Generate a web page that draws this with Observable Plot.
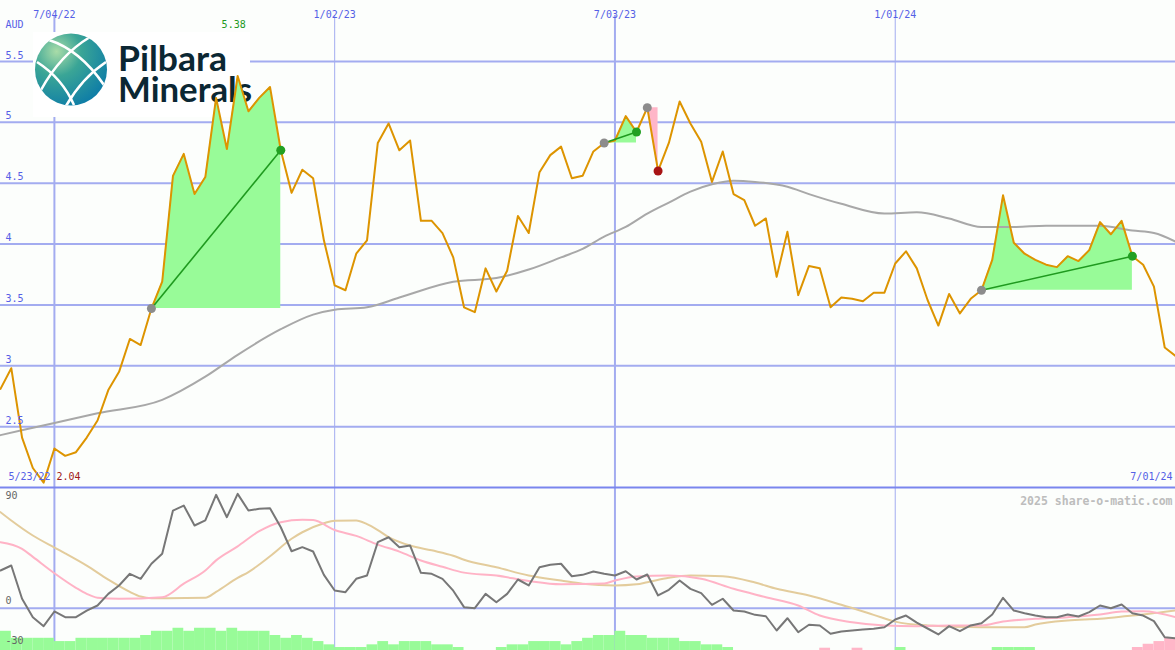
<!DOCTYPE html>
<html><head><meta charset="utf-8">
<script src="https://cdn.jsdelivr.net/npm/d3@7"></script>
<script src="https://cdn.jsdelivr.net/npm/@observablehq/plot@0.6"></script>
<style>
html,body{margin:0;padding:0;background:#fcfefc;}
#chart{width:1175px;height:650px;overflow:hidden;background:#fcfefc;}
#chart svg{display:block;}
</style></head><body><div id="chart"></div>
<script>
// ---------- data ----------
const startWeek = "2022-05-30";           // first weekly point
const firstDateLabel = "5/23/22";
const lastDateLabel = "7/01/24";
const unitLabel = "AUD";
const watermark = "2025 share-o-matic.com";
const logoLines = ["Pilbara", "Minerals"];

const price = [
  2.81, 2.98, 2.41, 2.16, 2.04, 2.32, 2.26, 2.29, 2.41, 2.55,
  2.80, 2.95, 3.22, 3.17, 3.47, 3.69, 4.56, 4.74, 4.41, 4.55,
  5.20, 4.78, 5.38, 5.09, 5.20, 5.29, 4.77, 4.42, 4.61, 4.54,
  4.03, 3.66, 3.62, 3.92, 4.03, 4.83, 4.99, 4.77, 4.85, 4.19,
  4.19, 4.09, 3.89, 3.48, 3.44, 3.80, 3.61, 3.78, 4.23, 4.09,
  4.59, 4.73, 4.80, 4.54, 4.56, 4.76, 4.83, 4.85, 5.05, 4.92,
  5.12, 4.60, 4.83, 5.17, 4.99, 4.84, 4.51, 4.76, 4.41, 4.36,
  4.15, 4.21, 3.73, 4.10, 3.58, 3.82, 3.80, 3.48, 3.56, 3.55,
  3.53, 3.60, 3.60, 3.84, 3.94, 3.80, 3.54, 3.33, 3.59, 3.43,
  3.55, 3.62, 3.87, 4.40, 4.01, 3.92, 3.87, 3.83, 3.81, 3.90,
  3.86, 3.95, 4.18, 4.08, 4.19, 3.90, 3.83, 3.65, 3.15, 3.08
];

const maWeeks  = [0,5,9,15,19,22,26,29,31,34,37,42,46,49,52,54,56,58,60,62,64,66,68,70,73,75,78,82,85,88,91,94,97,102,105,107,109];
const maValues = [2.43,2.53,2.61,2.72,2.91,3.09,3.30,3.42,3.46,3.48,3.56,3.69,3.72,3.79,3.89,3.96,4.06,4.14,4.25,4.34,4.43,4.49,4.52,4.51,4.47,4.41,4.33,4.25,4.26,4.21,4.14,4.14,4.15,4.15,4.11,4.09,4.02];

// trend annotations: [from week, to week]
const trendFrom = [14, 56, 60, 91];
const trendTo   = [26, 59, 61, 105];
const trendDir  = ["up", "up", "down", "up"];

const osc = [
  32.3, 36.6, 8.1, -7.7, -15.4, -2.8, -7.7, -7.7, -2.0, 2.3,
  12.3, 19.5, 29.5, 25.2, 38.1, 46.6, 83.7, 88.0, 70.9, 75.2,
  97.2, 78.0, 98.0, 83.7, 85.2, 85.7, 69.4, 48.8, 52.3, 48.6,
  28.6, 15.2, 13.7, 25.2, 28.0, 56.6, 60.8, 52.3, 53.7, 30.3,
  29.5, 25.2, 15.0, 0.9, 0.0, 12.3, 5.1, 12.3, 24.6, 19.5,
  35.1, 37.2, 38.1, 27.4, 28.6, 31.5, 29.5, 28.0, 31.7, 24.6,
  28.9, 10.9, 15.8, 23.7, 16.6, 12.9, 2.9, 8.1, -2.0, -2.8,
  -5.7, -6.9, -19.1, -8.6, -20.6, -14.2, -14.8, -21.9, -20.0, -19.1,
  -18.3, -17.7, -16.3, -9.7, -6.3, -12.3, -17.4, -22.5, -15.4, -19.7,
  -14.8, -12.9, -5.4, 8.9, -2.0, -4.3, -6.3, -7.7, -7.7, -5.4,
  -7.1, -3.4, 2.3, 0.0, 3.2, -4.3, -6.3, -11.1, -24.9, -25.7
];

const pinkWeeks  = [0,2,3,5,7,8,9,11,15,17,19,20,22,24,26,28,29,31,33,35,37,39,41,43,46,49,52,56,57,59,62,65,68,71,74,76,79,82,85,88,91,93,96,99,102,104,106,109];
const pinkValues = [56.6,50.9,44,30,17.5,12.3,9,8.1,9.4,21,32.3,41,53,66,73.7,75.8,75.5,67,62,54.5,48.5,40.9,35.5,30.5,28,23.3,20.5,21.2,23.7,27.2,28,25.2,16.6,9.4,2.3,-6.3,-12,-14.8,-15.4,-14.8,-14.8,-11.4,-9.1,-7.7,-5.4,-2.8,-2.6,-7.7];

const tanWeeks  = [0,1,3,5,6,8,10,12,13,14,19,20,22,23,25,27,28,30,31,33,34,35,36,38,40,42,43,46,49,52,54,57,59,60,62,64,67,70,72,75,78,81,83,86,91,95,96,99,102,105,106,109];
const tanValues = [82.3,75.2,62.3,52,47,36.5,24.5,14,10,8.6,8.9,14,26,31,44.5,59.5,65.1,72.8,75,75.2,72,67,61,53.7,49.6,45,41.5,35.1,28,23.7,21,19.5,20.5,22.3,26.1,28,27.4,22,16.6,10.9,2.9,-5.7,-11.5,-14.8,-16.3,-16.3,-14,-10.5,-9.1,-6.3,-5.4,-2];

// histogram between week i and week i+1 (positive green, negative pink)
const histValues = [
  16.5,
  10.5,10.5,10.5,10.5,
  7.7,7.7,
  10.5,10.5,10.5,10.5,10.5,10.5,
  12.9,
  16.5,16.5,
  19.1,
  16.5,
  19.1,19.1,
  16.5,
  19.1,
  16.5,16.5,16.5,
  12.9,
  10.5,
  12.9,
  10.5,
  7.7,
  4.9,
  2.6,2.6,2.6,
  4.9,
  7.7,
  4.9,
  7.7,7.7,7.7,
  4.9,4.9,
  2.6,
  0,0,0,
  2.6,
  4.9,4.9,
  7.7,7.7,7.7,
  4.9,
  7.7,
  10.5,
  12.9,12.9,
  16.5,
  12.9,12.9,
  10.5,10.5,10.5,
  7.7,7.7,
  4.9,4.9,
  2.6,
  0,0,0,0,0,0,0,0,
  -2,
  0,0,
  -2,
  0,0,0,
  2.6,
  0,0,0,0,0,0,0,0,
  2.6,2.6,2.6,2.6,
  0,0,0,0,0,0,0,0,0,
  -2.6,-5.4,-7.7,-10.5
];

const priceTicks = [5.5, 5, 4.5, 4, 3.5, 3, 2.5];
const dateTicks = ["2022-07-04", "2023-01-02", "2023-07-03", "2024-01-01"];
const dateTickLabels = ["7/04/22", "1/02/23", "7/03/23", "1/01/24"];
const oscTicks = [90, 0, -30];

// ---------- styles ----------
const GRID = "#a3acf0";
const SEP = "#7a86ee";
const LABEL = "#5560e6";
const ORANGE = "#dd9400";
const GREEN_FILL = "#98fb98";
const PINK_FILL = "#ffb6c8";
const FONT = "DejaVu Sans Mono, monospace";

// ---------- derived tables ----------
const t0 = new Date(startWeek);
const dates = price.map((_, i) => d3.utcDay.offset(t0, 7 * i));
const priceData = price.map((v, i) => ({date: dates[i], v}));
const maData = maWeeks.map((w, k) => ({date: dates[w], v: maValues[k]}));
const tickData = dateTicks.map((d, k) => ({date: new Date(d), label: dateTickLabels[k]}));
const julyTicks = tickData.filter(d => d.date.getUTCMonth() === 6);
const janTicks = tickData.filter(d => d.date.getUTCMonth() !== 6);
const oscData = osc.map((v, i) => ({date: dates[i], v}));
const pinkData = pinkWeeks.map((w, k) => ({date: dates[w], v: pinkValues[k]}));
const tanData = tanWeeks.map((w, k) => ({date: dates[w], v: tanValues[k]}));
const histData = histValues.map((v, i) => ({d1: dates[i], d2: dates[i + 1], v})).filter(d => d.v !== 0);

const iMax = d3.maxIndex(price), iMin = d3.minIndex(price);

const xScale = {type: "utc", domain: [dates[0], dates[dates.length - 1]], range: [0, 1175]};

// trend marks
const trendMarks = [];
trendFrom.forEach((a, k) => {
  const b = trendTo[k], up = trendDir[k] === "up";
  const base = price[a];
  const seg = priceData.slice(a, b + 1);
  trendMarks.push(Plot.areaY(seg, {x: "date", y1: base, y2: "v", fill: up ? GREEN_FILL : PINK_FILL}));
});
const linkMarks = [];
const dotMarks = [];
trendFrom.forEach((a, k) => {
  const b = trendTo[k], up = trendDir[k] === "up";
  if (up) linkMarks.push(Plot.link([{a, b}], {x1: d => dates[d.a], y1: d => price[d.a], x2: d => dates[d.b], y2: d => price[d.b], stroke: "#1f9a1f", strokeWidth: 1.6}));
  dotMarks.push(Plot.dot([a], {x: i => dates[i], y: i => price[i], r: 4.5, fill: "#8c8c8c"}));
  dotMarks.push(Plot.dot([b], {x: i => dates[i], y: i => price[i], r: 4.5, fill: up ? "#22a022" : "#a81414"}));
});

function logoMark() {
  const g = document.createElementNS("http://www.w3.org/2000/svg", "g");
  g.innerHTML = `
    <defs>
      <radialGradient id="lgGlobe" cx="0.3" cy="0.25" r="0.85">
        <stop offset="0" stop-color="#a9dca8"/>
        <stop offset="0.4" stop-color="#3aa596"/>
        <stop offset="1" stop-color="#0b7aa8"/>
      </radialGradient>
      <clipPath id="lgClip"><circle cx="71" cy="69.5" r="36"/></clipPath>
    </defs>
    <rect x="33" y="32" width="217" height="85" fill="#ffffff"/>
    <circle cx="71" cy="69.5" r="36" fill="url(#lgGlobe)"/>
    <g clip-path="url(#lgClip)" fill="none" stroke="#ffffff" stroke-width="2.6">
      <path d="M49,40 Q80,50 104,85"/>
      <path d="M90,37 Q60,55 41,90"/>
      <path d="M37,62 Q62,78 74,105"/>
      <path d="M106,62 Q82,78 66,106"/>
    </g>
    <text text-anchor="start" font-family="Lato, Open Sans, sans-serif" font-weight="700" font-size="34" fill="#0b2733"><tspan x="118" y="71" textLength="109" lengthAdjust="spacingAndGlyphs">${logoLines[0]}</tspan><tspan x="118" y="102" textLength="134" lengthAdjust="spacingAndGlyphs">${logoLines[1]}</tspan></text>`;
  return g;
}

// ---------- main price panel ----------
const main = Plot.plot({
  width: 1175, height: 489,
  marginTop: 0, marginRight: 0, marginBottom: 0, marginLeft: 0,
  style: {background: "none", fontFamily: FONT, fontSize: "10px", overflow: "visible"},
  x: {...xScale, axis: null},
  y: {domain: [2, 6], range: [487, 0], axis: null},
  marks: [
    Plot.ruleY(priceTicks, {stroke: GRID, strokeWidth: 2}),
    Plot.ruleX(julyTicks, {x: "date", stroke: GRID, strokeWidth: 2, insetTop: 15}),
    Plot.ruleX(janTicks, {x: "date", stroke: GRID, strokeWidth: 1, insetTop: 15}),
    logoMark,
    ...trendMarks,
    Plot.line(maData, {x: "date", y: "v", stroke: "#a8a8a8", strokeWidth: 2, curve: "monotone-x"}),
    Plot.line(priceData, {x: "date", y: "v", stroke: ORANGE, strokeWidth: 2}),
    ...linkMarks,
    ...dotMarks,
    Plot.ruleY([2], {stroke: SEP, strokeWidth: 2}),
    Plot.text(priceTicks, {y: d => d, text: d => String(d), frameAnchor: "left", dx: 5, dy: -6, textAnchor: "start", fill: LABEL}),
    Plot.text([unitLabel], {frameAnchor: "top-left", dx: 5, dy: 20, textAnchor: "start", fill: LABEL}),
    Plot.text(tickData, {x: "date", text: "label", frameAnchor: "top", dy: 10, fill: LABEL}),
    Plot.text([iMax], {x: i => dates[i], text: i => price[i].toFixed(2), frameAnchor: "top", dy: 20, dx: -4, fill: "#229922"}),
    Plot.text([firstDateLabel], {frameAnchor: "bottom-left", dx: 8, dy: -10, textAnchor: "start", fill: LABEL}),
    Plot.text([iMin], {text: i => price[i].toFixed(2), frameAnchor: "bottom-left", dx: 56, dy: -10, textAnchor: "start", fill: "#a01818"}),
    Plot.text([lastDateLabel], {frameAnchor: "bottom-right", dx: -3, dy: -10, textAnchor: "end", fill: LABEL})
  ]
});

// ---------- oscillator panel ----------
const histBase = -36.3;
const lower = Plot.plot({
  width: 1175, height: 161,
  marginTop: 0, marginRight: 0, marginBottom: 0, marginLeft: 0,
  style: {background: "none", fontFamily: FONT, fontSize: "10px", overflow: "visible"},
  x: {...xScale, axis: null},
  y: {domain: [-30, 90], range: [153.7, 13.7], axis: null},
  marks: [
    Plot.ruleX(julyTicks, {x: "date", stroke: GRID, strokeWidth: 2}),
    Plot.ruleX(janTicks, {x: "date", stroke: GRID, strokeWidth: 1}),
    Plot.rect(histData, {x1: "d1", x2: "d2", y1: histBase, y2: d => histBase + Math.abs(d.v), fill: d => d.v > 0 ? GREEN_FILL : PINK_FILL}),
    Plot.ruleY([0], {stroke: GRID, strokeWidth: 2}),
    Plot.line(tanData, {x: "date", y: "v", stroke: "#e3cc9c", strokeWidth: 2, curve: "monotone-x"}),
    Plot.line(pinkData, {x: "date", y: "v", stroke: "#ffb3c6", strokeWidth: 2, curve: "monotone-x"}),
    Plot.line(oscData, {x: "date", y: "v", stroke: "#777777", strokeWidth: 2}),
    Plot.text(oscTicks.filter(d => d > -30), {y: d => d, text: d => String(d), frameAnchor: "left", dx: 5, dy: -7, textAnchor: "start", fill: "#666666"}),
    Plot.text(oscTicks.filter(d => d <= -30), {y: d => d, text: d => String(d), frameAnchor: "left", dx: 5, dy: -2, textAnchor: "start", fill: "#666666"}),
    Plot.text([watermark], {frameAnchor: "top-right", dx: -3, dy: 7, textAnchor: "end", fill: "#bdbdbd", fontWeight: "bold", fontSize: 11.5})
  ]
});

const chart = document.getElementById("chart");
chart.appendChild(main);
chart.appendChild(lower);
</script>
</body></html>
